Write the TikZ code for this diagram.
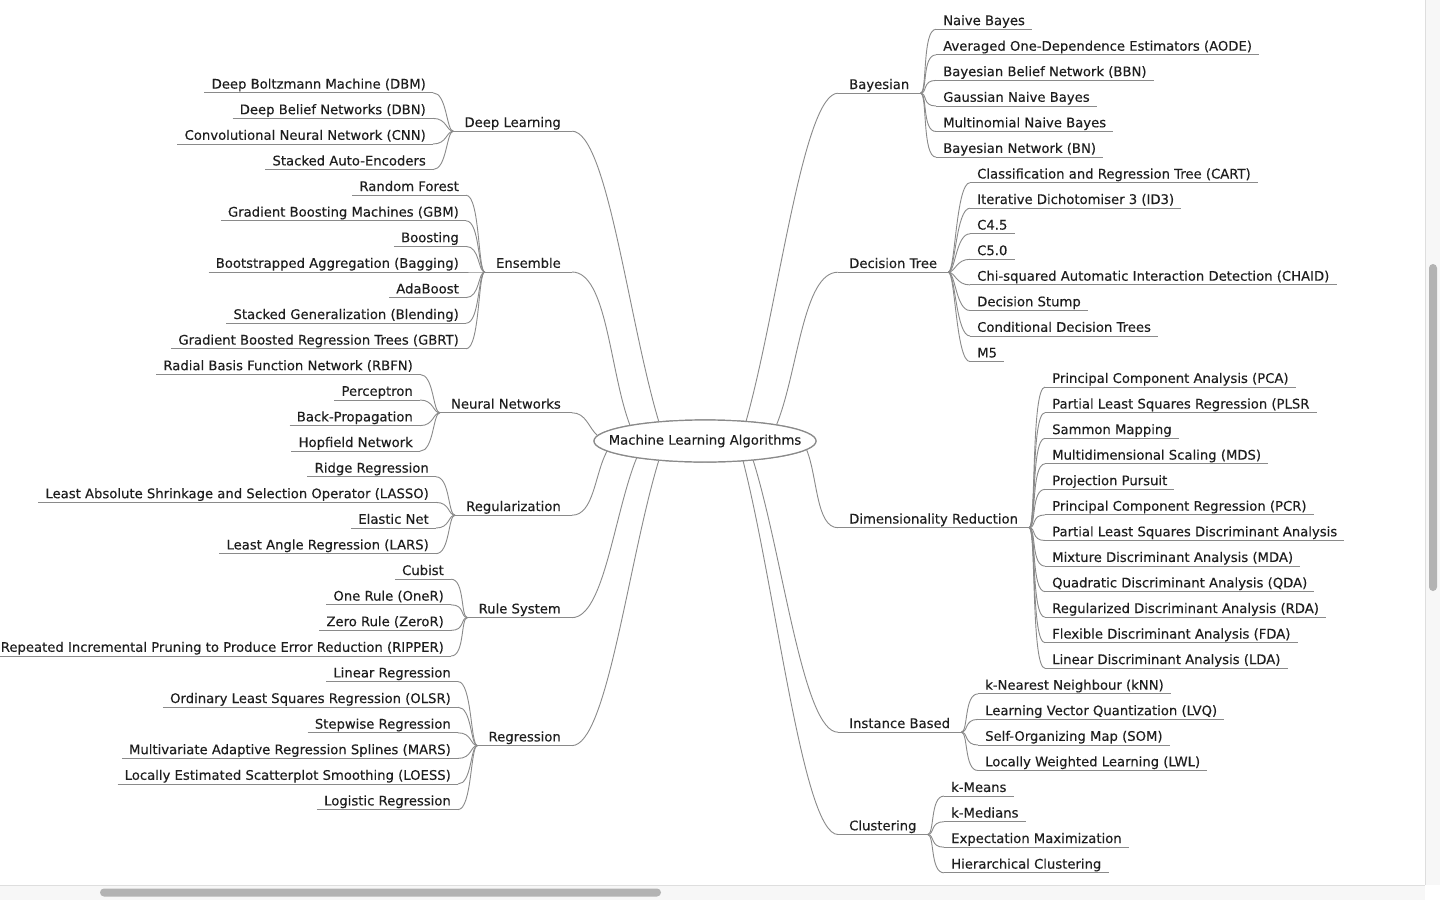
\documentclass[tikz,border=0pt]{standalone}
\usepackage{fontspec}
\setmainfont{DejaVu Sans}
\newfontfamily\mapfont[FakeBold=0.25]{DejaVu Sans}
\usetikzlibrary{shapes.geometric,calc}
\definecolor{txt}{HTML}{1E1E1E}
\definecolor{lnc}{HTML}{8A8A8A}
\definecolor{track}{HTML}{F7F7F7}
\definecolor{sep}{HTML}{DEDEDE}
\definecolor{thumb}{HTML}{B3B3B3}
\newcommand{\lblfont}{\mapfont\fontsize{13.2}{15}\selectfont}
\tikzset{
  base/.style={inner ysep=0pt, text depth=4pt, text height=9.5pt, font=\lblfont, text=txt},
  leafL/.style={base, anchor=south east, inner xsep=7pt},
  leafR/.style={base, anchor=south west, inner xsep=7pt},
  brL/.style={base, anchor=south east, inner xsep=11pt},
  brR/.style={base, anchor=south west, inner xsep=11pt},
  ln/.style={draw=lnc, line width=0.9pt},
  rootshape/.style={ellipse, draw=lnc, line width=1.2pt, fill=white, minimum width=222pt, minimum height=42pt, inner sep=0pt},
  roottext/.style={font=\lblfont, text=txt, inner sep=0pt}
}
\begin{document}
\begin{tikzpicture}[x=1pt,y=-1pt]
\useasboundingbox (0,0) rectangle (1440,900);
\clip (0,0) rectangle (1440,900);
\fill[white] (0,0) rectangle (1440,900);

% ---------- root ----------
\node[rootshape] (root) at (705,441) {};

% ---------- left branches ----------
\node[brL] (dl) at (572,131.2) {Deep Learning};
\node[brL] (en) at (572,272.0) {Ensemble};
\node[brL] (nn) at (572,412.8) {Neural Networks};
\node[brL] (rz) at (572,515.2) {Regularization};
\node[brL] (rs) at (572,617.6) {Rule System};
\node[brL] (re) at (572,745.6) {Regression};

% ---------- right branches ----------
\node[brR] (by) at (838,93.2) {Bayesian};
\node[brR] (dt) at (838,272.2) {Decision Tree};
\node[brR] (dr) at (838,527.7) {Dimensionality Reduction};
\node[brR] (ib) at (838,732.2) {Instance Based};
\node[brR] (cl) at (838,834.5) {Clustering};

% ---------- left leaves ----------
\node[leafL] (dl1) at (433,92.8) {Deep Boltzmann Machine (DBM)};
\node[leafL] (dl2) at (433,118.4) {Deep Belief Networks (DBN)};
\node[leafL] (dl3) at (433,144.0) {Convolutional Neural Network (CNN)};
\node[leafL] (dl4) at (433,169.6) {Stacked Auto-Encoders};

\node[leafL] (en1) at (466,195.2) {Random Forest};
\node[leafL] (en2) at (466,220.8) {Gradient Boosting Machines (GBM)};
\node[leafL] (en3) at (466,246.4) {Boosting};
\node[leafL] (en4) at (466,272.0) {Bootstrapped Aggregation (Bagging)};
\node[leafL] (en5) at (466,297.6) {AdaBoost};
\node[leafL] (en6) at (466,323.2) {Stacked Generalization (Blending)};
\node[leafL] (en7) at (466,348.8) {Gradient Boosted Regression Trees (GBRT)};

\node[leafL] (nn1) at (420,374.4) {Radial Basis Function Network (RBFN)};
\node[leafL] (nn2) at (420,400.0) {Perceptron};
\node[leafL] (nn3) at (420,425.6) {Back-Propagation};
\node[leafL] (nn4) at (420,451.2) {Hopfield Network};

\node[leafL] (rz1) at (436,476.8) {Ridge Regression};
\node[leafL] (rz2) at (436,502.4) {Least Absolute Shrinkage and Selection Operator (LASSO)};
\node[leafL] (rz3) at (436,528.0) {Elastic Net};
\node[leafL] (rz4) at (436,553.6) {Least Angle Regression (LARS)};

\node[leafL] (rs1) at (451,579.2) {Cubist};
\node[leafL] (rs2) at (451,604.8) {One Rule (OneR)};
\node[leafL] (rs3) at (451,630.4) {Zero Rule (ZeroR)};
\node[leafL] (rs4) at (451,656.0) {Repeated Incremental Pruning to Produce Error Reduction (RIPPER)};

\node[leafL] (re1) at (458,681.6) {Linear Regression};
\node[leafL] (re2) at (458,707.2) {Ordinary Least Squares Regression (OLSR)};
\node[leafL] (re3) at (458,732.8) {Stepwise Regression};
\node[leafL] (re4) at (458,758.4) {Multivariate Adaptive Regression Splines (MARS)};
\node[leafL] (re5) at (458,784.0) {Locally Estimated Scatterplot Smoothing (LOESS)};
\node[leafL] (re6) at (458,809.6) {Logistic Regression};

% ---------- right leaves ----------
\node[leafR] (by1) at (936,29.3) {Naive Bayes};
\node[leafR] (by2) at (936,54.9) {Averaged One-Dependence Estimators (AODE)};
\node[leafR] (by3) at (936,80.4) {Bayesian Belief Network (BBN)};
\node[leafR] (by4) at (936,106.0) {Gaussian Naive Bayes};
\node[leafR] (by5) at (936,131.5) {Multinomial Naive Bayes};
\node[leafR] (by6) at (936,157.1) {Bayesian Network (BN)};

\node[leafR] (dt1) at (970,182.7) {Classification and Regression Tree (CART)};
\node[leafR] (dt2) at (970,208.2) {Iterative Dichotomiser 3 (ID3)};
\node[leafR] (dt3) at (970,233.8) {C4.5};
\node[leafR] (dt4) at (970,259.3) {C5.0};
\node[leafR] (dt5) at (970,284.9) {Chi-squared Automatic Interaction Detection (CHAID)};
\node[leafR] (dt6) at (970,310.5) {Decision Stump};
\node[leafR] (dt7) at (970,336.0) {Conditional Decision Trees};
\node[leafR] (dt8) at (970,361.6) {M5};

\node[leafR] (dr1) at (1045,387.1) {Principal Component Analysis (PCA)};
\node[leafR] (dr2) at (1045,412.7) {Partial Least Squares Regression (PLSR};
\node[leafR] (dr3) at (1045,438.3) {Sammon Mapping};
\node[leafR] (dr4) at (1045,463.8) {Multidimensional Scaling (MDS)};
\node[leafR] (dr5) at (1045,489.4) {Projection Pursuit};
\node[leafR] (dr6) at (1045,514.9) {Principal Component Regression (PCR)};
\node[leafR] (dr7) at (1045,540.5) {Partial Least Squares Discriminant Analysis};
\node[leafR] (dr8) at (1045,566.1) {Mixture Discriminant Analysis (MDA)};
\node[leafR] (dr9) at (1045,591.6) {Quadratic Discriminant Analysis (QDA)};
\node[leafR] (dr10) at (1045,617.2) {Regularized Discriminant Analysis (RDA)};
\node[leafR] (dr11) at (1045,642.7) {Flexible Discriminant Analysis (FDA)};
\node[leafR] (dr12) at (1045,668.3) {Linear Discriminant Analysis (LDA)};

\node[leafR] (ib1) at (978,693.9) {k-Nearest Neighbour (kNN)};
\node[leafR] (ib2) at (978,719.4) {Learning Vector Quantization (LVQ)};
\node[leafR] (ib3) at (978,745.0) {Self-Organizing Map (SOM)};
\node[leafR] (ib4) at (978,770.5) {Locally Weighted Learning (LWL)};

\node[leafR] (cl1) at (944,796.1) {k-Means};
\node[leafR] (cl2) at (944,821.7) {k-Medians};
\node[leafR] (cl3) at (944,847.2) {Expectation Maximization};
\node[leafR] (cl4) at (944,872.8) {Hierarchical Clustering};

% ---------- underlines ----------
\foreach \n in {dl,en,nn,rz,rs,re,by,dt,dr,ib,cl,
  dl1,dl2,dl3,dl4,en1,en2,en3,en4,en5,en6,en7,nn1,nn2,nn3,nn4,
  rz1,rz2,rz3,rz4,rs1,rs2,rs3,rs4,re1,re2,re3,re4,re5,re6,
  by1,by2,by3,by4,by5,by6,dt1,dt2,dt3,dt4,dt5,dt6,dt7,dt8,
  dr1,dr2,dr3,dr4,dr5,dr6,dr7,dr8,dr9,dr10,dr11,dr12,
  ib1,ib2,ib3,ib4,cl1,cl2,cl3,cl4}
  \draw[ln] (\n.south west) -- (\n.south east);

% ---------- leaf braces, left ----------
\foreach \p/\list in {dl/{dl1,dl2,dl3,dl4},en/{en1,en2,en3,en4,en5,en6,en7},
  nn/{nn1,nn2,nn3,nn4},rz/{rz1,rz2,rz3,rz4},rs/{rs1,rs2,rs3,rs4},
  re/{re1,re2,re3,re4,re5,re6}}
  \foreach \c in \list
    \draw[ln] (\c.south east) .. controls +(14,0) and +(-7,0) .. (\p.south west);

% ---------- leaf braces, right ----------
\foreach \p/\list in {by/{by1,by2,by3,by4,by5,by6},dt/{dt1,dt2,dt3,dt4,dt5,dt6,dt7,dt8},
  dr/{dr1,dr2,dr3,dr4,dr5,dr6,dr7,dr8,dr9,dr10,dr11,dr12},
  ib/{ib1,ib2,ib3,ib4},cl/{cl1,cl2,cl3,cl4}}
  \foreach \c in \list
    \draw[ln] (\p.south east) .. controls +(7,0) and +(-14,0) .. (\c.south west);

% ---------- root connectors, left ----------
\foreach \p/\a/\k in {dl/157/35,en/168/35,nn/177/14,rz/186/22,rs/194/32,re/203/35}
  \draw[ln] (\p.south east) .. controls +(\k,0) and ($(root.\a)!0.35!(\p.south east)$) .. (root.\a);

% ---------- root connectors, right ----------
\foreach \p/\a/\k in {by/26/35,dt/13/35,dr/355/22,ib/338/35,cl/332/35}
  \draw[ln] (root.\a) .. controls ($(root.\a)!0.35!(\p.south west)$) and +(-\k,0) .. (\p.south west);

\node[rootshape] (rootfg) at (root.center) {};
\node[roottext] (roottxt) at (root.center) {Machine Learning Algorithms};

% ---------- scrollbars ----------
\fill[track] (0,885) rectangle (1425,900);
\draw[sep, line width=0.8pt] (0,885.5) -- (1425,885.5);
\fill[thumb, rounded corners=4pt] (100,888.5) rectangle (661,896.5);
\fill[track] (1425,0) rectangle (1440,885);
\draw[sep, line width=0.8pt] (1425.5,0) -- (1425.5,885);
\fill[thumb, rounded corners=4pt] (1429,264) rectangle (1437,591);
\end{tikzpicture}
\end{document}
